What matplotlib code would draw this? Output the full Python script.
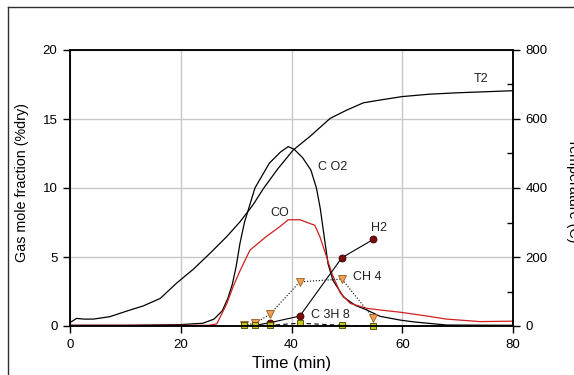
import matplotlib
matplotlib.use('Agg')
import matplotlib.pyplot as plt
from matplotlib.lines import Line2D
from matplotlib.ticker import MultipleLocator

plt.rcParams['font.family'] = ['Liberation Sans', 'DejaVu Sans']

# temperature T2 (deg C), right axis
t_T2 = [0, 0.3, 1.2, 2.5, 4.2, 7.2, 10.2, 13.2, 16.3, 19.3, 22.3, 25.3, 28.3, 30.7,
        33, 35, 37.5, 40.3, 43.3, 47, 50, 53, 56, 60, 65, 70, 75, 80]
T2 = [10, 13, 22, 20, 20, 27, 43, 58, 80, 125, 165, 211, 259, 302,
      350, 400, 455, 510, 549, 602, 626, 647, 655, 665, 672, 676, 679, 682]

# CO2 (% dry)
t_co2 = [0, 10, 20, 24, 26, 27.5, 28.5, 29.3, 30, 30.7, 31.5, 33.4, 36, 38, 39.4, 40.5,
         42, 43.5, 44.5, 45.2, 46, 46.6, 47.5, 49.4, 51.5, 53.6, 56, 59.6, 62, 68, 80]
co2 = [0.05, 0.05, 0.1, 0.2, 0.5, 1.1, 2.0, 3.0, 4.3, 6.0, 7.5, 10.0, 11.8, 12.6, 13.0, 12.8,
       12.2, 11.3, 10.0, 8.5, 6.2, 4.5, 3.3, 2.1, 1.5, 1.16, 0.7, 0.43, 0.3, 0.07, 0.05]

# CO (% dry)
t_co = [0, 10, 20, 25, 26.5, 28.3, 29.5, 30.7, 32.5, 35.5, 37.9, 39.4, 41.5, 44.2, 45.1,
        46.1, 47.3, 48.8, 50.6, 53.6, 56, 59.6, 64, 68, 74, 80]
co = [0.05, 0.05, 0.05, 0.05, 0.15, 1.6, 2.9, 4.0, 5.5, 6.5, 7.2, 7.7, 7.7, 7.3, 6.5,
      5.3, 3.8, 2.4, 1.64, 1.28, 1.16, 1.0, 0.75, 0.5, 0.32, 0.35]

# sampled gases (% dry)
t_gc = [31.5, 33.4, 36.1, 41.5, 49.1, 54.8]
h2 = [0.02, 0.05, 0.24, 0.72, 4.95, 6.28]
ch4 = [0.05, 0.2, 0.85, 3.2, 3.4, 0.56]
c3h8 = [0.05, 0.05, 0.05, 0.2, 0.05, 0.0]

fig = plt.figure(figsize=(5.74, 3.75), dpi=100)
ax = fig.add_axes([70 / 574, 1 - 326 / 375, 443 / 574, 276 / 375])
ax2 = ax.twinx()

ax.set_xlim(0, 80)
ax.set_ylim(0, 20)
ax2.set_ylim(0, 800)

ax.grid(True, color='#c8c8c8', lw=1)
ax.set_axisbelow(True)
ax.xaxis.set_major_locator(MultipleLocator(20))
ax.yaxis.set_major_locator(MultipleLocator(5))
ax2.yaxis.set_major_locator(MultipleLocator(200))
ax2.yaxis.set_minor_locator(MultipleLocator(100))

for a in (ax, ax2):
    for s in a.spines.values():
        s.set_linewidth(1.1)
        s.set_color('black')
ax.tick_params(direction='out', length=5, width=1, labelsize=9.5, pad=4)
ax2.tick_params(which='major', direction='out', length=5, width=1, labelsize=9.5, pad=4)
ax2.tick_params(which='minor', direction='in', length=4, width=1)

ax2.plot(t_T2, T2, color='black', lw=0.9)
ax.plot(t_co2, co2, color='black', lw=0.9)
ax.plot(t_co, co, color='#d02020', lw=0.9)
ax.plot(t_gc, h2, color='black', lw=0.8, marker='o', ms=5,
        mfc='#7a0c0c', mec='#3a0000', mew=0.6)
ax.plot(t_gc, ch4, color='black', lw=0.8, ls=':', marker='v', ms=5.5,
        mfc='#f0a050', mec='#9a5a20', mew=0.6)
ax.plot(t_gc, c3h8, color='black', lw=0.8, ls=(0, (4, 3)), marker='s', ms=5,
        mfc='#c8c820', mec='#404000', mew=0.6, clip_on=False)

lab = dict(fontsize=9, ha='center', va='center', color='#202020')
ax.text(74.2, 17.9, 'T2', **lab)
ax.text(47.5, 11.5, 'C O2', **lab)
ax.text(37.9, 8.2, 'CO', **lab)
ax.text(55.8, 7.1, 'H2', **lab)
ax.text(53.6, 3.55, 'CH 4', **lab)
ax.text(47.0, 0.8, 'C 3H 8', **lab)

ax.set_xlabel('Time (min)', fontsize=12)
ax.xaxis.set_label_coords(0.5, -0.11)
fig.text(22 / 574, 1 - 182 / 375, 'Gas mole fraction (%dry)', rotation=90,
         ha='center', va='center', fontsize=10.3)
fig.text(566 / 574, 1 - 190 / 375, 'Temperature (C)', rotation=270,
         ha='left', va='center', fontsize=10.3)

# outer frame of the original picture
fig.add_artist(Line2D([8 / 574, 8 / 574], [0, 1 - 7 / 375], color='#303030', lw=1))
fig.add_artist(Line2D([8 / 574, 1], [1 - 7 / 375, 1 - 7 / 375], color='#303030', lw=1))

fig.savefig('out.png', dpi=100)
